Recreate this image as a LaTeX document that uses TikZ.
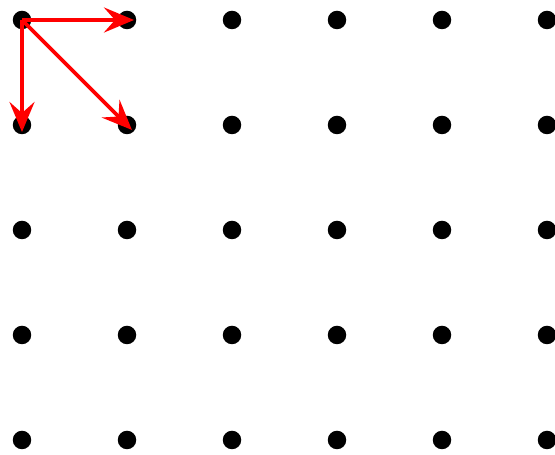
\documentclass[tikz,border=0pt]{standalone}
\usepackage{tikz}
\usetikzlibrary{arrows.meta}

\begin{document}
\begin{tikzpicture}[
    dot/.style={circle, fill=black, inner sep=0pt, minimum size=0.37cm},
    arr/.style={-{Stealth[length=0.6cm, width=0.5cm, inset=0.22cm]}, draw=red, fill=red, line width=2.2pt, shorten >=-0.14cm}
]
    \useasboundingbox (0,0) rectangle (11.1,-9.1);
    
    % grid of dots
    \foreach \i in {0,...,5} {
        \foreach \j in {0,...,4} {
            \node[dot] (d\i\j) at (0.44+2.1*\i, -0.4-2.1*\j) {};
        }
    }
    
    % moves from the corner
    \draw[arr] (d00.center) -- (d10.center);
    \draw[arr] (d00.center) -- (d01.center);
    \draw[arr] (d00.center) -- (d11.center);
\end{tikzpicture}
\end{document}
